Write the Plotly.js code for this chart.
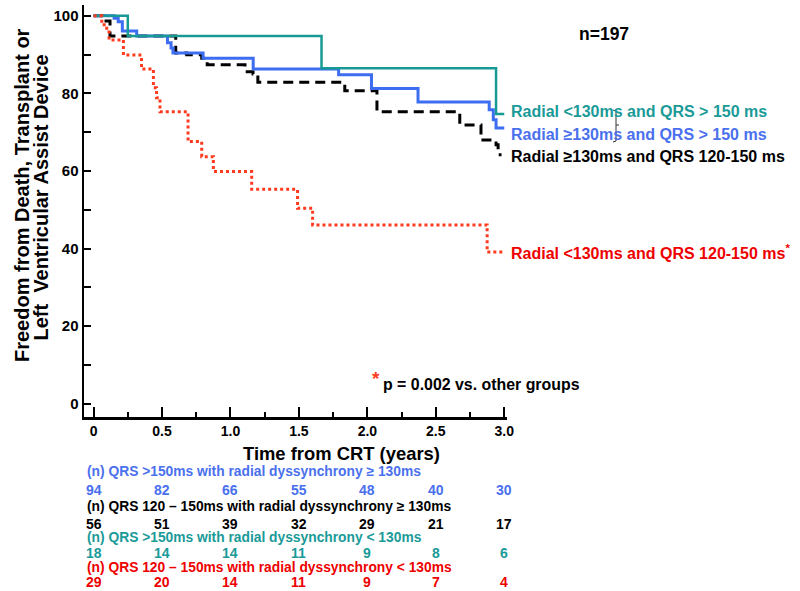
<!DOCTYPE html>
<html>
<head>
<meta charset="utf-8">
<script src="https://cdn.plot.ly/plotly-3.0.1.min.js"></script>
<style>
  body { margin: 0; background: #fff; }
  #km { width: 800px; height: 591px; }
</style>
</head>
<body>
<div id="km"></div>
<script>
// Kaplan-Meier steps (years, % free of event)
var tealT = [0, 0.25, 1.665, 2.94, 3.0];
var tealS = [100, 94.8, 86.5, 74.7, 74.7];

var blueT = [0, 0.15, 0.18, 0.21, 0.315, 0.54, 0.566, 0.58, 0.80, 1.166, 1.79, 2.03, 2.37, 2.89, 2.92, 2.94, 3.0];
var blueS = [100, 99.4, 98.5, 96.1, 94.8, 93.1, 91.7, 90.4, 89.1, 86.3, 84.8, 81.3, 77.8, 75.8, 73.2, 71.1, 71.1];

var blackT = [0, 0.07, 0.12, 0.60, 0.68, 0.79, 0.83, 1.106, 1.165, 1.20, 1.835, 2.07, 2.675, 2.83, 2.94, 2.955, 2.98];
var blackS = [100, 98.7, 94.8, 90.4, 90.0, 89.1, 87.4, 85.6, 85.0, 82.9, 80.7, 75.3, 71.9, 68.0, 66.8, 64.2, 64.2];

var redT = [0, 0.06, 0.096, 0.113, 0.218, 0.35, 0.437, 0.46, 0.485, 0.69, 0.79, 0.875, 1.155, 1.49, 1.60, 2.875, 3.0];
var redS = [100, 97.7, 96.4, 93.8, 89.9, 86.3, 81.5, 78.9, 75.3, 67.6, 63.7, 59.9, 55.3, 50.4, 46.1, 39.1, 39.1];

var groupNames = [
  'Radial <130ms and QRS > 150 ms',
  'Radial \u2265130ms and QRS > 150 ms',
  'Radial \u2265130ms and QRS 120-150 ms',
  'Radial <130ms and QRS 120-150 ms'
];

// numbers at risk table (one value per x tick)
var riskHeaders = [
  '(n) QRS >150ms with radial dyssynchrony \u2265 130ms',
  '(n) QRS 120 \u2013 150ms with radial dyssynchrony \u2265 130ms',
  '(n) QRS >150ms with radial dyssynchrony < 130ms',
  '(n) QRS 120 \u2013 150ms with radial dyssynchrony < 130ms'
];
var riskBlue  = [94, 82, 66, 55, 48, 40, 30];
var riskBlack = [56, 51, 39, 32, 29, 21, 17];
var riskTeal  = [18, 14, 14, 11, 9, 8, 6];
var riskRed   = [29, 20, 14, 11, 9, 7, 4];

var xTicks = [0, 0.5, 1.0, 1.5, 2.0, 2.5, 3.0];
var xTickText = ['0', '0.5', '1.0', '1.5', '2.0', '2.5', '3.0'];
var xMinor = [0.25, 0.75, 1.25, 1.75, 2.25, 2.75];
var yTicks = [0, 20, 40, 60, 80, 100];
var yMinor = [10, 30, 50, 70, 90];

var TEAL = '#189a94', BLUE = '#3d6ef2', BLACK = '#000000', RED = '#ff3b1f', REDTXT = '#ee0000';
var TEALTXT = '#1a9a98', BLUETXT = '#4a70ee';

// plot area in pixels: left 84, top 5, width 423, height 412
var L = 84, T = 5, W = 423, H = 412;
function px(x) { return (x - L) / W; }
function py(y) { return (T + H - y) / H; }

var bold = 'Liberation Sans';

var data = [
  { x: blackT, y: blackS, type: 'scatter', mode: 'lines', name: groupNames[2],
    line: { shape: 'hv', color: BLACK, width: 3, dash: '10px,6px' } },
  { x: blueT, y: blueS, type: 'scatter', mode: 'lines', name: groupNames[1],
    line: { shape: 'hv', color: BLUE, width: 3 } },
  { x: tealT, y: tealS, type: 'scatter', mode: 'lines', name: groupNames[0],
    line: { shape: 'hv', color: TEAL, width: 2.5 } },
  { x: redT, y: redS, type: 'scatter', mode: 'lines', name: groupNames[3],
    line: { shape: 'hv', color: RED, width: 3, dash: 'dot' } }
];

var ann = [];
function txt(x, y, s, size, color, opts) {
  var a = { xref: 'paper', yref: 'paper', x: px(x), y: py(y), text: s, showarrow: false,
    xanchor: 'left', yanchor: 'middle',
    font: { family: bold, size: size, color: color, weight: 'bold' } };
  for (var k in opts) a[k] = opts[k];
  ann.push(a);
}

// curve labels
txt(509, 111, groupNames[0], 16, TEALTXT);
txt(509, 134, groupNames[1], 16, BLUETXT);
txt(509, 157, groupNames[2], 16, BLACK);
txt(509, 252, groupNames[3] + '<sup>*</sup>', 16, REDTXT);

txt(577, 34, 'n=197', 17.5, BLACK);
txt(370, 378, '*', 19, RED);
txt(381, 384, 'p = 0.002 vs. other groups', 15.9, BLACK);

// axis titles
txt(341.5, 453, 'Time from CRT (years)', 18.4, BLACK, { xanchor: 'center' });
txt(22, 195, 'Freedom from Death, Transplant or', 20, BLACK, { xanchor: 'center', textangle: -90 });
txt(41, 197.5, 'Left  Ventricular Assist Device', 20, BLACK, { xanchor: 'center', textangle: -90 });

// numbers at risk
var rows = [
  [riskHeaders[0], riskBlue, BLUETXT, 471, 490],
  [riskHeaders[1], riskBlack, BLACK, 507, 524],
  [riskHeaders[2], riskTeal, TEALTXT, 537, 553],
  [riskHeaders[3], riskRed, REDTXT, 567, 582]
];
rows.forEach(function (r) {
  ann.push({ xref: 'paper', yref: 'paper', x: px(85), y: py(r[3]), text: r[0], showarrow: false,
    xanchor: 'left', yanchor: 'middle', font: { family: bold, size: 13.8, color: r[2], weight: 'bold' } });
  r[1].forEach(function (v, i) {
    ann.push({ xref: 'x', yref: 'paper', x: xTicks[i], y: py(r[4]), text: String(v),
      showarrow: false, xanchor: 'center', yanchor: 'middle',
      font: { family: bold, size: 14, color: r[2], weight: 'bold' } });
  });
});

var layout = {
  width: 800, height: 591,
  margin: { l: L, r: 800 - L - W, t: T, b: 591 - T - H },
  paper_bgcolor: '#fff', plot_bgcolor: '#fff',
  showlegend: false,
  xaxis: {
    range: [-0.07, 3.02], showgrid: false, zeroline: false,
    showline: true, linecolor: '#000', linewidth: 2.5,
    tickmode: 'array', tickvals: xTicks, ticktext: xTickText,
    ticks: 'inside', ticklen: 10, tickwidth: 2, tickcolor: '#000',
    minor: { tickmode: 'array', tickvals: xMinor, ticks: 'inside', ticklen: 5, tickwidth: 2, tickcolor: '#000', showgrid: false },
    tickfont: { family: bold, size: 14, color: '#000', weight: 'bold' }
  },
  yaxis: {
    range: [-3.4, 102.8], showgrid: false, zeroline: false,
    showline: true, linecolor: '#000', linewidth: 2.5,
    tickmode: 'array', tickvals: yTicks,
    ticks: 'inside', ticklen: 7, tickwidth: 2, tickcolor: '#000',
    minor: { tickmode: 'array', tickvals: yMinor, ticks: 'inside', ticklen: 7, tickwidth: 2, tickcolor: '#000', showgrid: false },
    tickfont: { family: bold, size: 15, color: '#000', weight: 'bold' }
  },
  // small bracket mark left over beside the curve labels
  shapes: [
    { type: 'path', xref: 'paper', yref: 'paper',
      path: 'M' + px(613) + ',' + py(110) + ' L' + px(616) + ',' + py(111) + ' L' + px(616) + ',' + py(141) +
            ' L' + px(613) + ',' + py(142) + ' M' + px(616) + ',' + py(125) + ' L' + px(619) + ',' + py(125),
      line: { color: '#333', width: 1 } }
  ],
  annotations: ann
};

Plotly.newPlot('km', data, layout, { displayModeBar: false, staticPlot: true });
</script>
</body>
</html>
